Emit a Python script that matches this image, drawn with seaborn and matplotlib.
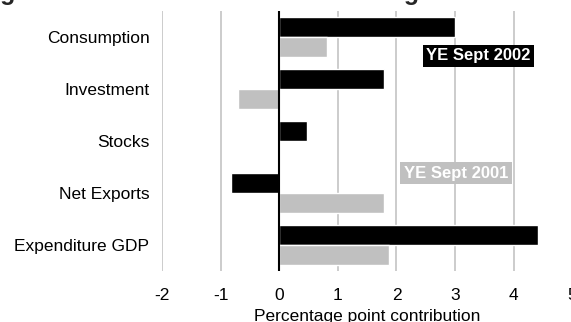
import matplotlib

matplotlib.use("Agg")
import matplotlib.pyplot as plt
import pandas as pd
import seaborn as sns

CATEGORIES = ["Consumption", "Investment", "Stocks", "Net Exports", "Expenditure GDP"]
YE_2002 = [3.0, 1.78, 0.48, -0.83, 4.42]
YE_2001 = [0.82, -0.7, 0.0, 1.78, 1.88]
SERIES = ["YE Sept 2002", "YE Sept 2001"]
X_TICKS = [-2, -1, 0, 1, 2, 3, 4, 5]

BLACK = "#000000"
GREY = "#c0c0c0"


def build_frame() -> pd.DataFrame:
    rows = []
    for series, values in zip(SERIES, [YE_2002, YE_2001]):
        for cat, val in zip(CATEGORIES, values):
            rows.append({"category": cat, "series": series, "value": val})
    return pd.DataFrame(rows)


def main() -> None:
    sns.set_theme(style="white")
    plt.rcParams["font.family"] = ["Liberation Sans", "DejaVu Sans"]

    df = build_frame()

    fig = plt.figure(figsize=(5.71, 3.22), dpi=100)
    ax = fig.add_axes([162 / 571, 1 - 271 / 322, 410.3 / 571, 260 / 322])

    sns.barplot(
        data=df, x="value", y="category", hue="series", order=CATEGORIES,
        hue_order=SERIES, palette=[BLACK, GREY], orient="h", width=0.77,
        gap=0, saturation=1, legend=False, ax=ax,
    )

    ax.set_xlim(-2, 5)
    ax.set_ylim(4.5, -0.5)
    ax.set_xticks(X_TICKS)
    ax.set_xticklabels([str(t) for t in X_TICKS])
    for t in X_TICKS:
        if t != 0:
            ax.axvline(t, color="#c8c8c8", lw=1.3, zorder=0)
    ax.axvline(0, color="black", lw=1.5, zorder=3)

    for side in ["top", "bottom", "left", "right"]:
        ax.spines[side].set_visible(False)
    ax.tick_params(axis="x", length=0, pad=12, labelsize=12.5, colors="black")
    ax.tick_params(axis="y", length=0, pad=9, labelsize=12.5, colors="black")
    ax.set_ylabel("")
    ax.set_xlabel("Percentage point contribution", fontsize=12.5, labelpad=4.5, color="black")

    ax.text(3.40, 0.36, "YE Sept 2002", color="white", fontsize=12, fontweight="bold",
            ha="center", va="center",
            bbox=dict(boxstyle="square,pad=0.22", fc=BLACK, ec="none"))
    ax.text(3.02, 2.62, "YE Sept 2001", color="white", fontsize=12, fontweight="bold",
            ha="center", va="center",
            bbox=dict(boxstyle="square,pad=0.22", fc=GREY, ec="none"))

    # title sits mostly above the visible area, as in the cropped source
    fig.text(-22 / 571, 1.0, "Figure 3: Contributions to real GDP growth",
             fontsize=18, fontweight="bold", ha="left", va="baseline")

    fig.savefig("out.png", dpi=100)
    plt.close(fig)


if __name__ == "__main__":
    main()
